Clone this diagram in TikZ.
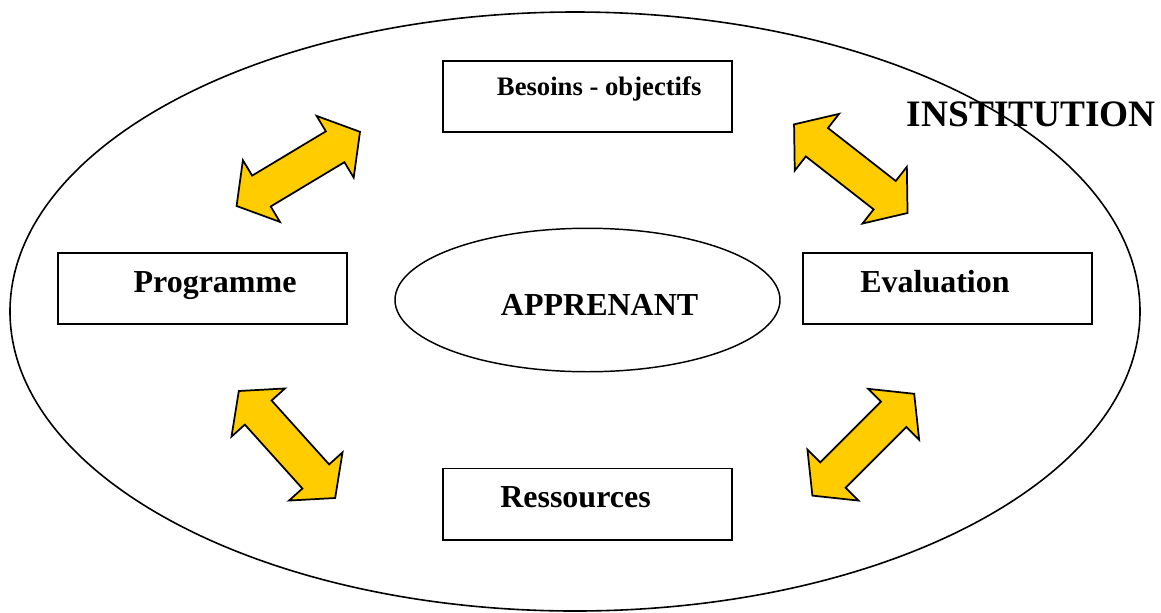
\documentclass[tikz,border=0pt]{standalone}
\usepackage{fontspec}
\setmainfont{Liberation Serif}
\usetikzlibrary{shapes.geometric}
\definecolor{arrowyellow}{RGB}{255,204,0}

\begin{document}
\begin{tikzpicture}[x=0.75pt, y=-0.75pt,
  box/.style={draw, line width=1.4pt, minimum width=216.75pt, minimum height=53.6pt, inner sep=0pt},
  lbl/.style={font=\fontsize{24}{28}\selectfont\bfseries, inner sep=0pt, anchor=base west},
  dblarrow/.style={fill=arrowyellow, draw=black, line width=1.3pt, line join=miter}]
\useasboundingbox (0,0) rectangle (1161,612);

% the institution round everything
\draw[line width=1.2pt] (575,311.5) ellipse [x radius=565, y radius=299.5];
\node[lbl, font=\fontsize{28}{32}\selectfont\bfseries] (instTxt) at (906.7,126.7) {INSTITUTION};

% learner in the middle
\node[draw, ellipse, line width=1.1pt, minimum width=288.75pt, minimum height=107.6pt, inner sep=0pt] (appr) at (587.5,300) {};
\node[lbl] (apprTxt) at (500.7,315.7) {APPRENANT};

% the four boxes
\node[box] (besoins) at (587.2,96.3) {};
\node[lbl, font=\fontsize{20}{24}\selectfont\bfseries] (besoinsTxt) at (496.7,95) {Besoins - objectifs};
\node[box] (prog) at (202.5,288.3) {};
\node[lbl] (progTxt) at (133.3,292.7) {Programme};
\node[box] (eval) at (947.2,288.3) {};
\node[lbl] (evalTxt) at (860,292.7) {Evaluation};
\node[box] (ress) at (587.2,504.2) {};
\node[lbl] (ressTxt) at (500,507.7) {Ressources};

% double block arrows: centre x / centre y / angle
\foreach \cx/\cy/\ang in {298.3/168.9/31, 850.8/168.7/-38, 287/444.5/-48, 863.3/444.7/45}
  \filldraw[dblarrow, shift={(\cx,\cy)}, rotate=\ang] (72,0) -- (43,36) -- (43,18) -- (-43,18) -- (-43,36)
    -- (-72,0) -- (-43,-36) -- (-43,-18) -- (43,-18) -- (43,-36) -- cycle;
\end{tikzpicture}
\end{document}
